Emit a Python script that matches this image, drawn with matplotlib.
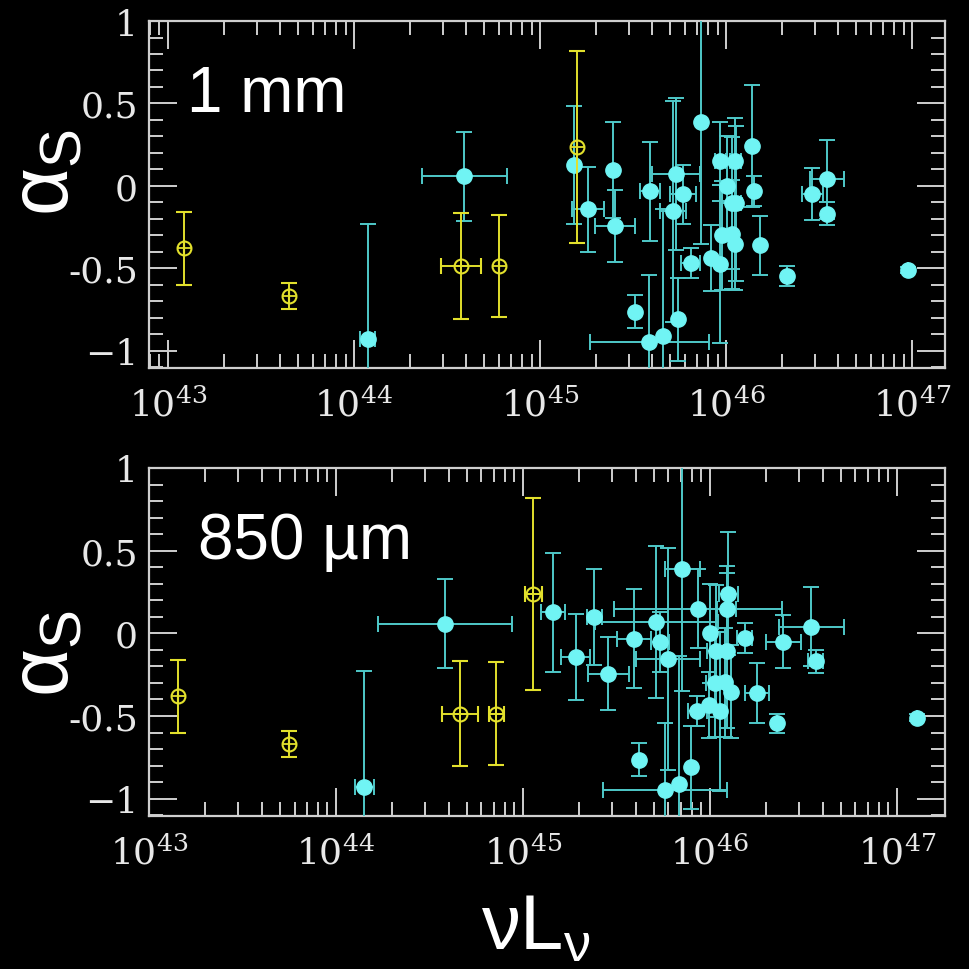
import numpy as np
import matplotlib.pyplot as plt

plt.rcParams['font.family'] = 'DejaVu Serif'
plt.rcParams['mathtext.fontset'] = 'custom'
plt.rcParams['mathtext.rm'] = 'Liberation Sans'
plt.rcParams['mathtext.it'] = 'Liberation Sans'

# spectral slope alpha_S, same sources in both bands
alpha = [-0.93, 0.059, 0.127, -0.143, 0.097, -0.243, -0.032, 0.07, -0.052, -0.155,
         0.39, -0.47, -0.81, -0.91, -0.95, -0.765, 0.15, 0.15, 0.0, -0.105,
         -0.105, -0.30, -0.295, -0.352, -0.435, -0.472, 0.24, -0.03, -0.36, -0.545,
         -0.05, 0.04, -0.17, -0.51]
alpha_err = [0.70, 0.27, 0.36, 0.26, 0.29, 0.22, 0.30, 0.46, 0.18, 0.67,
             0.74, 0.09, 0.25, 0.77, 0.41, 0.10, 0.24, 0.26, 0.30, 0.40,
             0.47, 0.33, 0.33, 0.28, 0.20, 0.48, 0.37, 0.09, 0.18, 0.06,
             0.16, 0.24, 0.07, 0.02]

# log10 nuL_nu at 1 mm and 850 um (dex errors)
lum_1mm = [44.074, 44.593, 45.181, 45.257, 45.395, 45.403, 45.591, 45.731, 45.767, 45.717,
           45.866, 45.81, 45.74, 45.66, 45.588, 45.512, 45.97, 46.05, 46.007, 46.03,
           46.055, 45.976, 46.03, 46.048, 45.92, 45.97, 46.14, 46.15, 46.18, 46.33,
           46.464, 46.543, 46.543, 46.98]
lum_1mm_err = [0.04, 0.23, 0, 0.086, 0, 0.107, 0.055, 0.13, 0.07, 0.07,
               0, 0.05, 0, 0, 0.32, 0, 0.03, 0.03, 0, 0.05,
               0, 0, 0, 0, 0, 0, 0, 0, 0, 0,
               0.055, 0.09, 0, 0]
lum_850 = [44.151, 44.583, 45.159, 45.281, 45.38, 45.456, 45.595, 45.714, 45.733, 45.777,
           45.852, 45.932, 45.898, 45.834, 45.759, 45.622, 45.938, 46.09, 46.0, 46.035,
           46.089, 46.027, 46.08, 46.115, 45.995, 46.053, 46.098, 46.187, 46.25, 46.357,
           46.392, 46.543, 46.567, 47.105]
lum_850_err = [0.05, 0.36, 0.065, 0.08, 0.04, 0.11, 0.09, 0.33, 0.05, 0.17,
               0.095, 0.05, 0, 0, 0.33, 0, 0.45, 0.05, 0, 0.05,
               0, 0.05, 0, 0, 0, 0, 0.05, 0.04, 0.065, 0,
               0.093, 0.175, 0.04, 0]

# open yellow symbols
yel_alpha = [-0.38, -0.67, -0.485, -0.485, 0.236]
yel_alpha_err = [0.22, 0.078, 0.32, 0.31, 0.58]
yel_1mm = [43.086, 43.65, 44.575, 44.78, 45.198]
yel_1mm_err = [0, 0, 0.105, 0, 0]
yel_850 = [43.157, 43.747, 44.663, 44.856, 45.055]
yel_850_err = [0, 0, 0.094, 0.04, 0.045]

CYAN = '#70f4f4'
TEAL = '#4fc9c9'
YELLOW = '#e2e02c'
AXC = '#cfcfcf'


def log_err(logx, dex):
    logx = np.array(logx)
    dex = np.array(dex)
    x = 10 ** logx
    return x, [x - 10 ** (logx - dex), 10 ** (logx + dex) - x]


def draw_panel(ax, lum, lum_err, ylum, ylum_err, xlim, label, label_xy):
    ax.set_facecolor('black')
    x, xe = log_err(lum, lum_err)
    ax.errorbar(x, alpha, xerr=xe, yerr=alpha_err, fmt='o', ms=11, mfc=CYAN, mec=CYAN,
                ecolor=TEAL, elinewidth=1.4, capsize=6, capthick=1.4, zorder=3)
    yx, yxe = log_err(ylum, ylum_err)
    ax.errorbar(yx, yel_alpha, xerr=yxe, yerr=yel_alpha_err, fmt='o', ms=10, mfc='none',
                mec=YELLOW, mew=1.5, ecolor=YELLOW, elinewidth=1.4, capsize=6,
                capthick=1.4, zorder=4)
    ax.plot(yx, yel_alpha, '+', ms=10, mew=1.3, color=YELLOW, zorder=4)

    ax.set_xscale('log')
    ax.set_xlim(10 ** xlim[0], 10 ** xlim[1])
    ax.set_ylim(-1.105, 1.0)
    ax.set_yticks([-1, -0.5, 0, 0.5, 1])
    ax.set_yticklabels(['\u22121', '-0.5', '0', '0.5', '1'])
    ax.set_yticks(np.arange(-1.1, 1.0, 0.1), minor=True)
    ax.tick_params(which='both', direction='in', top=True, right=True, colors=AXC,
                   labelcolor='#e8e8e8', labelsize=26)
    ax.tick_params(which='major', length=20, width=1.4)
    ax.tick_params(which='minor', length=10, width=1.4)
    ax.tick_params(axis='x', pad=14)
    ax.tick_params(axis='y', pad=8)
    for s in ax.spines.values():
        s.set_color(AXC)
        s.set_linewidth(1.6)
    ax.text(label_xy[0], label_xy[1], label, transform=ax.transAxes, color='white',
            fontsize=46, family='Liberation Sans', ha='left', va='top')


fig = plt.figure(figsize=(9.69, 9.70), dpi=100, facecolor='black')
ax1 = fig.add_axes([0.1538, 0.6196, 0.8214, 0.3577])
ax2 = fig.add_axes([0.1538, 0.1577, 0.8214, 0.3588])

draw_panel(ax1, lum_1mm, lum_1mm_err, yel_1mm, yel_1mm_err, (42.898, 47.177),
           '1 mm', (0.048, 0.875))
draw_panel(ax2, lum_850, lum_850_err, yel_850, yel_850_err, (43.0, 47.257),
           '850 \u00b5m', (0.062, 0.875))

for yc in (0.822, 0.326):
    fig.text(0.047, yc, r'$\alpha_{\rm S}$', color='white', fontsize=60, rotation=90,
             ha='center', va='center')
fig.text(0.553, 0.043, r'$\nu L_{\nu}$', color='white', fontsize=56,
         ha='center', va='center')

fig.savefig('out.png', dpi=100, facecolor='black')
